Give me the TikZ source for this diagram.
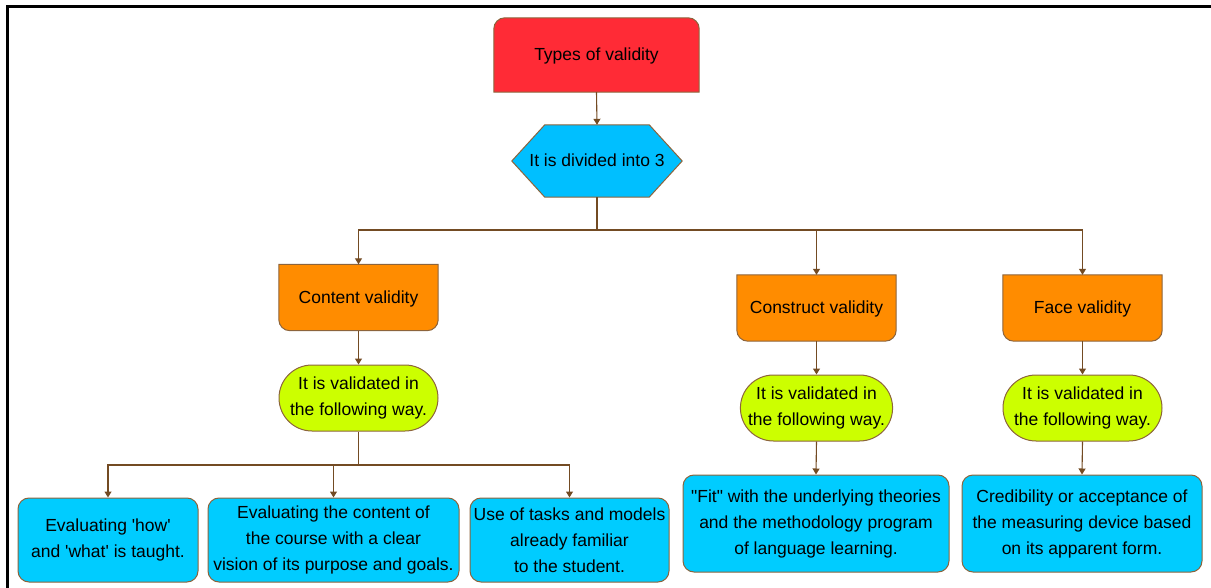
\documentclass[tikz,border=0pt]{standalone}
\usepackage{fontspec}
\setmainfont{Liberation Sans}[Ligatures=TeXOff]
\usetikzlibrary{arrows.meta,shapes.misc,backgrounds}
\definecolor{cred}{RGB}{255,43,54}
\definecolor{chex}{RGB}{0,191,255}
\definecolor{corange}{RGB}{255,140,0}
\definecolor{cgreen}{RGB}{204,255,0}
\definecolor{cblue}{RGB}{0,204,255}
\definecolor{cedge}{RGB}{140,100,60}
\definecolor{cline}{RGB}{115,75,35}
\tikzset{
  txt/.style={inner sep=0pt, align=center, font=\fontsize{17.5}{26}\selectfont},
  oneline/.style={text height=15pt, text depth=3pt},
  shapeedge/.style={draw=cedge, line width=1pt},
  greenbox/.style={txt, rounded rectangle, shapeedge, fill=cgreen, minimum width=159pt, minimum height=66pt},
  bluebox/.style={txt, rectangle, rounded corners=11pt, shapeedge, fill=cblue, minimum height=84pt},
  bluebigbox/.style={txt, rectangle, rounded corners=11pt, shapeedge, fill=cblue, minimum height=97pt},
  orangebox/.style={txt, oneline, minimum width=159pt, minimum height=66pt},
  plainline/.style={draw=cline, line width=1.1pt},
  arrowline/.style={plainline, -{Triangle[width=7pt,length=6pt]}},
}
\begin{document}
\begin{tikzpicture}[x=1pt,y=-1pt]
\useasboundingbox (0,0) rectangle (1211,588);
\draw[line width=3pt] (7,588) -- (7,7) -- (1211,7);

% top
\node[txt, oneline, minimum width=205pt, minimum height=74pt] (top) at (596.5,55) {Types of validity};
\node[txt, oneline, minimum width=170pt, minimum height=72pt] (hex) at (597,161) {It is divided into 3};

% types
\node[orangebox] (cv) at (358.5,297.5) {Content validity};
\node[orangebox] (kv) at (816.5,308) {Construct validity};
\node[orangebox] (fv) at (1082.5,308) {Face validity};

% green
\node[greenbox] (cg) at (358.5,398) {It is validated in\\the following way.};
\node[greenbox, minimum width=151pt] (kg) at (816.5,408) {It is validated in\\the following way.};
\node[greenbox] (fg) at (1082.5,408) {It is validated in\\the following way.};

% blue
\node[bluebox, minimum width=180pt] (b1) at (108,540) {Evaluating 'how'\\and 'what' is taught.};
\node[bluebox, minimum width=251pt] (b2) at (333.5,540) {Evaluating the content of\\the course with a clear\\vision of its purpose and goals.};
\node[bluebox, minimum width=199pt] (b3) at (569.5,540) {Use of tasks and models\\already familiar\\to the student.};
\node[bluebigbox, minimum width=266pt] (kb) at (816,523.5) {"Fit" with the underlying theories\\and the methodology program\\of language learning.};
\node[bluebigbox, minimum width=240pt] (fb) at (1082,523.5) {Credibility or acceptance of\\the measuring device based\\on its apparent form.};

\begin{scope}[on background layer]
  \path[shapeedge, fill=cred] (top.south west) -- ([yshift=-11pt]top.north west)
    arc[start angle=180, end angle=90, radius=11pt] -- ([xshift=-11pt]top.north east)
    arc[start angle=90, end angle=0, radius=11pt] -- (top.south east) -- cycle;
  \path[shapeedge, fill=chex] (hex.west) -- ([xshift=33pt]hex.north west) -- ([xshift=-33pt]hex.north east)
    -- (hex.east) -- ([xshift=-33pt]hex.south east) -- ([xshift=33pt]hex.south west) -- cycle;
  \foreach \n in {cv,kv,fv}{
    \path[shapeedge, fill=corange] (\n.north west) -- ([yshift=11pt]\n.south west)
      arc[start angle=180, end angle=270, radius=11pt] -- ([xshift=-11pt]\n.south east)
      arc[start angle=270, end angle=360, radius=11pt] -- (\n.north east) -- cycle;
  }
\end{scope}

\coordinate (j1) at (597,230);
\coordinate (j2) at (358.5,465);

\draw[arrowline] (top.south) -- (hex.north);
\draw[plainline] (hex.south) -- (j1);
\draw[arrowline] (j1) -| (cv.north);
\draw[arrowline] (j1) -| (kv.north);
\draw[arrowline] (j1) -| (fv.north);

\draw[arrowline] (cv.south) -- (cg.north);
\draw[arrowline] (kv.south) -- (kg.north);
\draw[arrowline] (fv.south) -- (fg.north);

\draw[plainline] (cg.south) -- (j2);
\draw[arrowline] (j2) -| (b1.north);
\draw[arrowline] (j2) -| (b2.north);
\draw[arrowline] (j2) -| (b3.north);

\draw[arrowline] (kg.south) -- (kb.north);
\draw[arrowline] (fg.south) -- (fb.north);
\end{tikzpicture}
\end{document}
